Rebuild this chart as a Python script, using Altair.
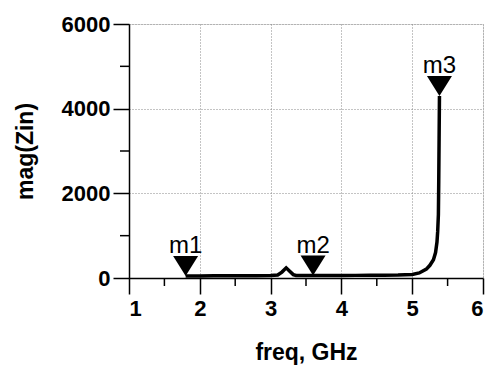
import altair as alt
import pandas as pd

# --- data ---
freq = [1.8, 2.0, 2.2, 2.4, 2.6, 2.8, 3.0, 3.1, 3.16, 3.22, 3.27, 3.32, 3.36, 3.4,
        3.6, 3.8, 4.0, 4.2, 4.4, 4.6, 4.8, 5.0, 5.1, 5.2, 5.25, 5.3, 5.33,
        5.35, 5.36, 5.37, 5.375, 5.38, 5.385]
zin = [50, 50, 52, 54, 55, 56, 58, 70, 140, 240, 160, 80, 60, 58,
       58, 58, 60, 62, 64, 66, 70, 85, 120, 210, 300, 430, 600,
       850, 1100, 1500, 2300, 3300, 4300]

marker_names = ["m1", "m2", "m3"]
marker_freq = [1.8, 3.6, 5.385]
marker_zin = [50, 58, 4300]

x_ticks = [1, 2, 3, 4, 5, 6]
x_minor = [1.5, 2.5, 3.5, 4.5, 5.5]
y_ticks = [0, 2000, 4000, 6000]
y_minor = [1000, 3000, 5000]

FONT = "Liberation Sans"
W, H = 354, 254

curve = pd.DataFrame({"freq": freq, "zin": zin})
markers = pd.DataFrame({"name": marker_names, "freq": marker_freq, "zin": marker_zin})
xmin = pd.DataFrame({"v": x_minor})
ymin = pd.DataFrame({"v": y_minor})

xs = alt.Scale(domain=[1, 6], nice=False, zero=False)
ys = alt.Scale(domain=[0, 6000], nice=False)

common_axis = dict(
    labelFont=FONT, labelFontSize=22, labelFontWeight="bold", labelColor="black",
    titleFont=FONT, titleFontSize=23, titleFontWeight="bold", titleColor="black",
    domainColor="black", domainWidth=1.5, tickColor="black", tickWidth=1.5,
    tickSize=16, grid=True, gridColor="#888", gridDash=[1, 2], gridWidth=1,
    format="d",
)

line = alt.Chart(curve).mark_line(color="black", strokeWidth=3.5, clip=True).encode(
    x=alt.X("freq:Q", scale=xs,
            axis=alt.Axis(values=x_ticks, title="freq, GHz", labelPadding=4,
                          titlePadding=22, **common_axis)),
    y=alt.Y("zin:Q", scale=ys,
            axis=alt.Axis(values=y_ticks, title="mag(Zin)", labelPadding=3,
                          titlePadding=24, **common_axis)),
)

xminor = alt.Chart(xmin).mark_rule(color="black", strokeWidth=1.5).encode(
    x=alt.X("v:Q", scale=xs), y=alt.value(H), y2=alt.value(H + 8))
yminor = alt.Chart(ymin).mark_rule(color="black", strokeWidth=1.5).encode(
    y=alt.Y("v:Q", scale=ys), x=alt.value(0), x2=alt.value(-9))

tri = alt.Chart(markers).mark_point(
    shape="M-1,-1.6L1,-1.6L0,0Z", size=625, filled=True, color="black", opacity=1
).encode(x=alt.X("freq:Q", scale=xs), y=alt.Y("zin:Q", scale=ys))

labels = alt.Chart(markers).mark_text(
    font=FONT, fontSize=24, dy=-23, baseline="alphabetic", align="center", color="black"
).encode(x=alt.X("freq:Q", scale=xs), y=alt.Y("zin:Q", scale=ys), text="name:N")

chart = alt.layer(line, xminor, yminor, tri, labels).properties(
    width=W, height=H,
    autosize=alt.AutoSizeParams(type="none"),
    padding={"left": 129, "top": 24, "right": 7, "bottom": 89},
).configure_view(stroke="#222", strokeWidth=1.2).configure(background="white")

chart.save("out.html", embed_options={"renderer": "svg", "actions": False})
